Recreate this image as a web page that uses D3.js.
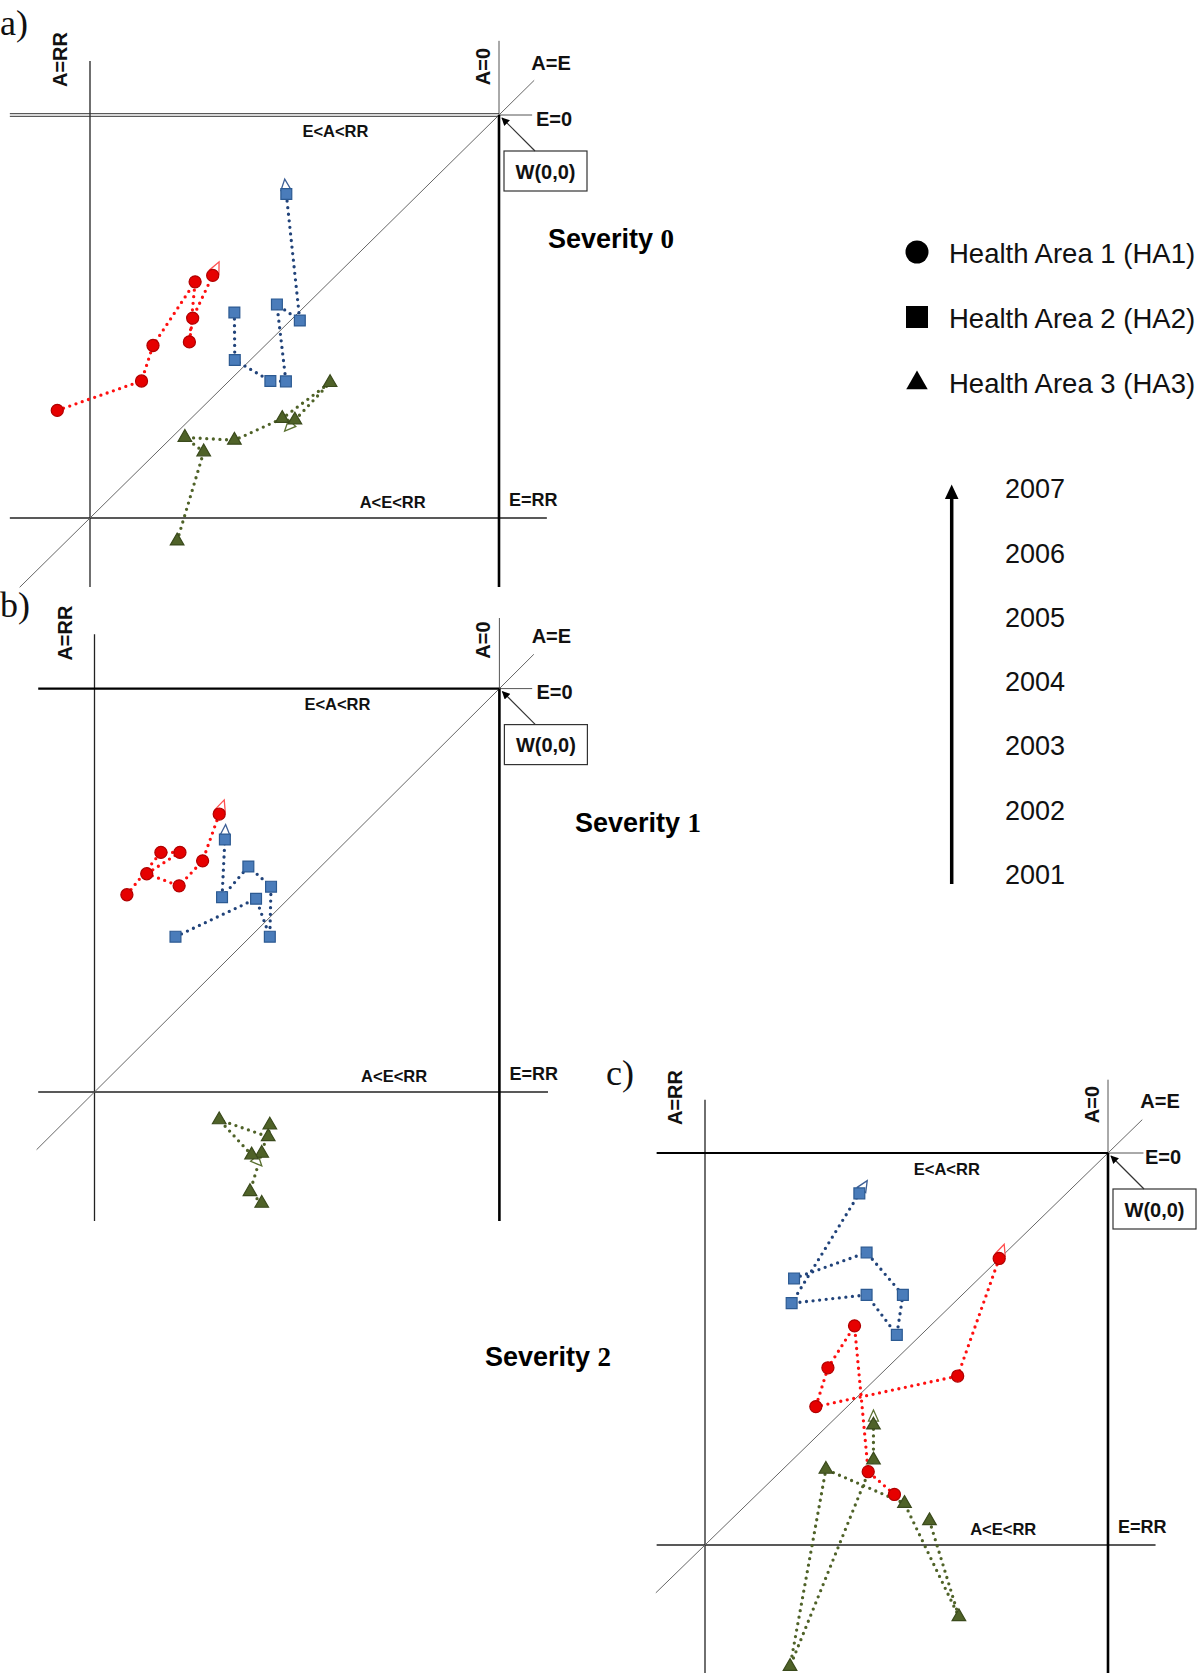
<!DOCTYPE html>
<html><head><meta charset="utf-8">
<script src="https://cdn.jsdelivr.net/npm/d3@7"></script>
<style>body{margin:0;background:#fff} svg{display:block}</style>
</head><body><svg id="chart" width="1200" height="1673"></svg>
<script>
// ---------- DATA ----------
const years = ["2001","2002","2003","2004","2005","2006","2007"];
const seriesNames = ["Health Area 1 (HA1)","Health Area 2 (HA2)","Health Area 3 (HA3)"];
const severityLabels = ["0","1","2"];
const panelLetters = ["a)","b)","c)"];
const lineLabels = ["A=RR","A=0","A=E","E=0","W(0,0)","E<A<RR","A<E<RR","E=RR"];
// [x, y] per year 2001..2007; x: A=RR (0) -> A=0 (100), y: E=RR (0) -> E=0 (100)
const sev0HA1 = [[-8.0,26.7],[12.6,34.0],[15.4,42.8],[25.7,58.6],[24.3,43.7],[25.1,49.6],[30.0,60.2]];
const sev0HA2 = [[35.3,51.0],[35.4,39.2],[44.1,34.0],[47.9,33.9],[45.7,53.0],[51.3,49.0],[48.0,80.4]];
const sev0HA3 = [[21.3,-5.7],[27.8,16.4],[23.2,20.0],[35.3,19.3],[47.0,24.7],[58.7,33.6],[50.1,24.3]];
const sev1HA1 = [[8.0,48.9],[16.4,59.4],[21.1,59.4],[12.9,54.1],[20.9,51.1],[26.7,57.3],[30.8,68.9]];
const sev1HA2 = [[20.0,38.5],[39.9,47.9],[43.3,38.5],[43.6,50.9],[38.0,55.9],[31.5,48.3],[32.2,62.6]];
const sev1HA3 = [[41.3,-27.6],[38.4,-24.7],[41.3,-15.2],[43.3,-8.2],[42.9,-11.1],[30.8,-6.9],[38.8,-15.6]];
const sev2HA1 = [[47.0,12.9],[40.5,18.7],[37.1,55.9],[30.5,45.2],[27.5,35.3],[62.7,43.1],[73.0,73.1]];
const sev2HA2 = [[22.1,68.0],[40.1,74.6],[49.1,63.8],[47.6,53.6],[40.1,63.8],[21.5,61.7],[38.3,89.7]];
const sev2HA3 = [[55.7,6.2],[63.0,-18.3],[49.5,10.6],[30.0,19.3],[21.1,-31.0],[41.8,21.7],[41.8,30.6]];

// ---------- DRAWING ----------
const SANS = '"Liberation Sans", Arial, Helvetica, sans-serif';
const SERIF = '"Liberation Serif", "Times New Roman", serif';
const svg = d3.select("#chart");
svg.append("rect").attr("width",1200).attr("height",1673).attr("fill","#fff");

const defs = svg.append("defs");
defs.append("marker").attr("id","arr").attr("viewBox","0 0 10 10").attr("refX",9).attr("refY",5)
  .attr("markerWidth",9).attr("markerHeight",8).attr("markerUnits","userSpaceOnUse").attr("orient","auto")
  .append("path").attr("d","M0,0L10,5L0,10Z").attr("fill","#000");

const styles = [
  {line:"#ff1010", fill:"#e60000", stroke:"#b00000", sym:d3.symbolCircle, size:115, hollow:"#ff5050"},
  {line:"#21437a", fill:"#4a7cba", stroke:"#2c5a92", sym:d3.symbolSquare, size:118, hollow:"#3d5f96"},
  {line:"#4f6228", fill:"#4f6228", stroke:"#3a4a1c", sym:d3.symbolTriangle, size:80, hollow:"#5a7030"}
];

const panels = [
  {xL:90, xR:499, yT:115, yB:518, letterX:0, letterY:35, sevX:548, sevY:248, doubleTop:true,
   vTop:113.4, vBot:-17.1, a0Top:118.4, hLeft:-19.6, hRight:108.1, bRight:111.7, dMin:-17.2, dMax:108.6,
   data:[sev0HA1,sev0HA2,sev0HA3]},
  {xL:94.5, xR:499.4, yT:688.6, yB:1092, letterX:0, letterY:617, sevX:575, sevY:832, doubleTop:false,
   vTop:113.5, vBot:-32, a0Top:117.5, hLeft:-13.9, hRight:108.1, bRight:112, dMin:-14.3, dMax:108.5,
   data:[sev1HA1,sev1HA2,sev1HA3]},
  {xL:705, xR:1108, yT:1153, yB:1545, letterX:606, letterY:1085, sevX:485, sevY:1366, doubleTop:false,
   vTop:113.6, vBot:-33, a0Top:118.7, hLeft:-12, hRight:108.8, bRight:111.8, dMin:-12.2, dMax:108.5,
   data:[sev2HA1,sev2HA2,sev2HA3]}
];

function seg(g,x1,y1,x2,y2,w,c){
  return g.append("line").attr("x1",x1).attr("y1",y1).attr("x2",x2).attr("y2",y2)
    .attr("stroke",c).attr("stroke-width",w);
}
function txt(g,x,y,s,size,anchor,weight,family){
  return g.append("text").attr("x",x).attr("y",y).text(s).attr("font-size",size)
    .attr("text-anchor",anchor||"start").attr("font-weight",weight||"bold")
    .attr("font-family",family||SANS).attr("fill","#111");
}

panels.forEach((p,pi)=>{
  const x = d3.scaleLinear().domain([0,100]).range([p.xL,p.xR]);
  const y = d3.scaleLinear().domain([0,100]).range([p.yB,p.yT]);
  const g = svg.append("g");

  // reference lines
  seg(g,x(0),y(p.vTop),x(0),y(p.vBot),1.3,"#222");                  // A=RR
  seg(g,x(100),y(p.a0Top),x(100),y(100),1,"#555");                  // A=0 upper
  seg(g,x(p.hLeft),y(0),x(p.bRight),y(0),1.4,"#222");               // E=RR
  if(p.doubleTop){
    seg(g,x(p.hLeft),y(100)-1.3,x(100),y(100)-1.3,1,"#333");
    seg(g,x(p.hLeft),y(100)+1.3,x(100),y(100)+1.3,1,"#333");
  } else {
    seg(g,x(p.hLeft),y(100),x(100),y(100),2.2,"#000");
  }
  seg(g,x(100),y(100),x(p.hRight),y(100),1,"#555");                 // E=0 right
  seg(g,x(p.dMin),y(p.dMin),x(p.dMax),y(p.dMax),1,"#666");          // A=E diagonal
  seg(g,x(100),y(100),x(100),y(p.vBot),2.6,"#000");                 // A=0 thick

  // labels
  txt(g,0,0,lineLabels[0],20,"middle").attr("transform",`translate(${p.xL-23},${p.yT-55.5}) rotate(-90)`);
  txt(g,0,0,lineLabels[1],20,"middle").attr("transform",`translate(${p.xR-9.5},${p.yT-48.5}) rotate(-90)`);
  txt(g,p.xR+52,p.yT-45.5,lineLabels[2],20,"middle");
  txt(g,p.xR+37,p.yT+10.5,lineLabels[3],20,"start");
  g.append("rect").attr("x",p.xR+5).attr("y",p.yT+36).attr("width",83).attr("height",40)
    .attr("fill","#fff").attr("stroke","#333").attr("stroke-width",1.2);
  txt(g,p.xR+46.5,p.yT+63.5,lineLabels[4],20,"middle");
  seg(g,p.xR+36,p.yT+36,p.xR+3,p.yT+3,1.2,"#333").attr("marker-end","url(#arr)");
  txt(g,x(60),p.yT+21.5,lineLabels[5],16.5,"middle");
  txt(g,x(74),p.yB-10.5,lineLabels[6],16.5,"middle");
  txt(g,p.xR+10,p.yB-12,lineLabels[7],18,"start");

  // panel letter and severity
  txt(g,p.letterX,p.letterY,panelLetters[pi],36,"start","normal",SERIF);
  const st = g.append("text").attr("x",p.sevX).attr("y",p.sevY).attr("font-size",27)
    .attr("font-weight","bold").attr("fill","#000");
  st.append("tspan").attr("font-family",SANS).text("Severity ");
  st.append("tspan").attr("font-family",SERIF).text(severityLabels[pi]);

  // series
  const lineGen = d3.line().x(d=>x(d[0])).y(d=>y(d[1]));
  p.data.forEach((ser,si)=>{
    g.append("path").attr("d",lineGen(ser)).attr("fill","none")
      .attr("stroke",styles[si].line).attr("stroke-width",3.3)
      .attr("stroke-linecap","round").attr("stroke-dasharray","0,6.6");
  });
  p.data.forEach((ser,si)=>{
    const a = ser[ser.length-2], b = ser[ser.length-1];
    const bx = x(b[0]), by = y(b[1]);
    let dx = bx - x(a[0]), dy = by - y(a[1]);
    const L = Math.hypot(dx,dy); dx/=L; dy/=L;
    const px = -dy, py = dx;
    const tip = [bx+dx*15, by+dy*15], base = [bx+dx*4, by+dy*4];
    g.append("path").attr("d",`M${tip[0]},${tip[1]}L${base[0]+px*5},${base[1]+py*5}L${base[0]-px*5},${base[1]-py*5}Z`)
      .attr("fill","#fff").attr("stroke",styles[si].hollow).attr("stroke-width",1.3);
  });
  p.data.forEach((ser,si)=>{
    g.selectAll(null).data(ser).enter().append("path")
      .attr("d",d3.symbol().type(styles[si].sym).size(styles[si].size))
      .attr("transform",d=>`translate(${x(d[0])},${y(d[1])})`)
      .attr("fill",styles[si].fill).attr("stroke",styles[si].stroke).attr("stroke-width",1.2);
  });
});

// ---------- LEGEND ----------
const lg = svg.append("g");
const legY = d3.scalePoint().domain(seriesNames).range([252,382]);
const legSyms = [d3.symbolCircle, d3.symbolSquare, d3.symbolTriangle];
const legSizes = [415, 484, 200];
seriesNames.forEach((n,i)=>{
  lg.append("path").attr("d",d3.symbol().type(legSyms[i]).size(legSizes[i]))
    .attr("transform",`translate(917,${legY(n) + (i===2?1:0)})`).attr("fill","#000");
  lg.append("text").attr("x",949).attr("y",legY(n)+10.5).text(n)
    .attr("font-family",SANS).attr("font-size",27.5).attr("fill","#111");
});
const yearY = d3.scalePoint().domain(years).range([884,498.4]);
years.forEach(yr=>{
  lg.append("text").attr("x",1005).attr("y",yearY(yr)).text(yr)
    .attr("font-family",SANS).attr("font-size",27).attr("fill","#111");
});
lg.append("line").attr("x1",951.7).attr("y1",884).attr("x2",951.7).attr("y2",496)
  .attr("stroke","#000").attr("stroke-width",3.5);
lg.append("path").attr("d","M951.7,484.5L958.5,499L944.9,499Z").attr("fill","#000");
</script></body></html>
